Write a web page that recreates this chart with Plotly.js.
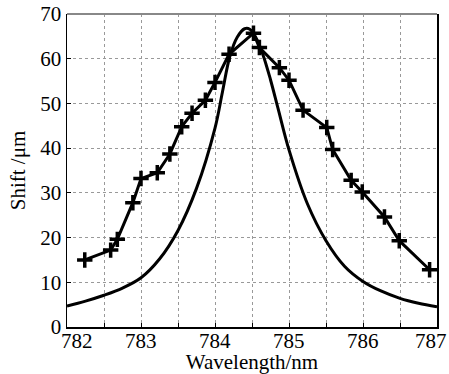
<!DOCTYPE html>
<html>
<head>
<meta charset="utf-8">
<script src="https://cdn.plot.ly/plotly-3.0.1.min.js"></script>
<style>html,body{margin:0;padding:0;background:#fff;}#chart{width:449px;height:374px;}</style>
</head>
<body>
<div id="chart"></div>
<script>
// Measured shift (marker series)
var measX = [782.24, 782.59, 782.68, 782.89, 783.0, 783.22, 783.39, 783.55, 783.69, 783.87, 784.0, 784.19,
             784.52, 784.6, 784.87, 785.0, 785.19, 785.51, 785.59, 785.84, 785.99, 786.29, 786.49, 786.9];
var measY = [15.0, 17.2, 19.6, 27.8, 33.2, 34.5, 38.7, 44.8, 47.8, 50.7, 54.7, 61.0,
             65.7, 62.5, 58.0, 55.2, 48.5, 44.6, 39.7, 32.8, 30.2, 24.6, 19.3, 12.8];
// Smooth theoretical curve
var curveX = [782, 782.25, 782.5, 782.75, 783, 783.25, 783.5, 783.75, 784, 784.1, 784.2, 784.3, 784.4, 784.47,
              784.55, 784.65, 784.75, 784.85, 785, 785.25, 785.5, 785.75, 786, 786.25, 786.5, 786.75, 787];
var curveY = [4.7, 5.8, 7.1, 8.7, 11.0, 15.2, 21.6, 31.0, 44.5, 52.5, 60.5, 64.8, 66.7, 66.6,
              64.8, 60.8, 55.3, 49.0, 39.6, 27.5, 19.3, 13.6, 10.2, 8.0, 6.4, 5.3, 4.5];
var xTicks = [782, 783, 784, 785, 786, 787];
var xTickText = ['782', '783', '784', '785', '786', '787'];
var yTicks = [0, 10, 20, 30, 40, 50, 60, 70];

function serif(sz) { return {family: 'Liberation Serif, serif', size: sz, color: '#000'}; }

var traces = [
  {x: curveX, y: curveY, mode: 'lines', line: {color: '#000', width: 3, shape: 'spline', smoothing: 1}, hoverinfo: 'skip'},
  {x: measX, y: measY, mode: 'lines+markers', line: {color: '#000', width: 3},
   marker: {symbol: 'cross-thin', size: 11, color: '#000', line: {color: '#000', width: 3.5}}}
];

// x tick labels as annotations so the edge labels can sit inside the page like the reference
var xLabelAnn = xTicks.map(function (v, i) {
  var shift = 0, anchor = 'center';
  if (i === 0) { shift = 10; }
  if (i === xTicks.length - 1) { anchor = 'right'; shift = 12; }
  return {x: v, xref: 'x', y: 0, yref: 'paper', text: xTickText[i], showarrow: false,
          xanchor: anchor, yanchor: 'top', xshift: shift, yshift: 0, font: serif(21)};
});

var layout = {
  width: 449, height: 374,
  margin: {l: 67, r: 12, t: 14, b: 47},
  paper_bgcolor: '#fff', plot_bgcolor: '#fff',
  showlegend: false,
  font: serif(21),
  xaxis: {
    range: [782, 787], tickvals: xTicks, showticklabels: false,
    ticks: 'inside', ticklen: 4, tickcolor: '#000', tickwidth: 1,
    showline: true, linecolor: '#000', linewidth: 1.5, mirror: false,
    showgrid: true, gridcolor: '#999', griddash: 'dot', gridwidth: 1,
    minor: {dtick: 0.5, showgrid: true, gridcolor: '#999', griddash: 'dot', gridwidth: 1, ticks: 'inside', ticklen: 4, tickcolor: '#000'},
    zeroline: false, automargin: false,
    title: {text: 'Wavelength/nm', font: serif(21), standoff: 30}
  },
  yaxis: {
    range: [0, 70], tickvals: yTicks, ticktext: yTicks.map(String),
    ticks: 'inside', ticklen: 4, tickcolor: '#000',
    showline: true, linecolor: '#000', linewidth: 1.5, mirror: true,
    showgrid: true, gridcolor: '#999', griddash: 'dot', gridwidth: 1,
    zeroline: false, tickfont: serif(21), automargin: false,
    ticklabeloverflow: 'allow', ticklabelstandoff: 0,
    title: {text: 'Shift /μm', font: serif(21), standoff: 9}
  },
  annotations: xLabelAnn,
  shapes: [
    {type: 'line', xref: 'paper', yref: 'paper', x0: 0, x1: 1, y0: 1, y1: 1, line: {color: '#888', width: 2}}
  ]
};

Plotly.newPlot('chart', traces, layout, {displayModeBar: false, staticPlot: true});
</script>
</body>
</html>
